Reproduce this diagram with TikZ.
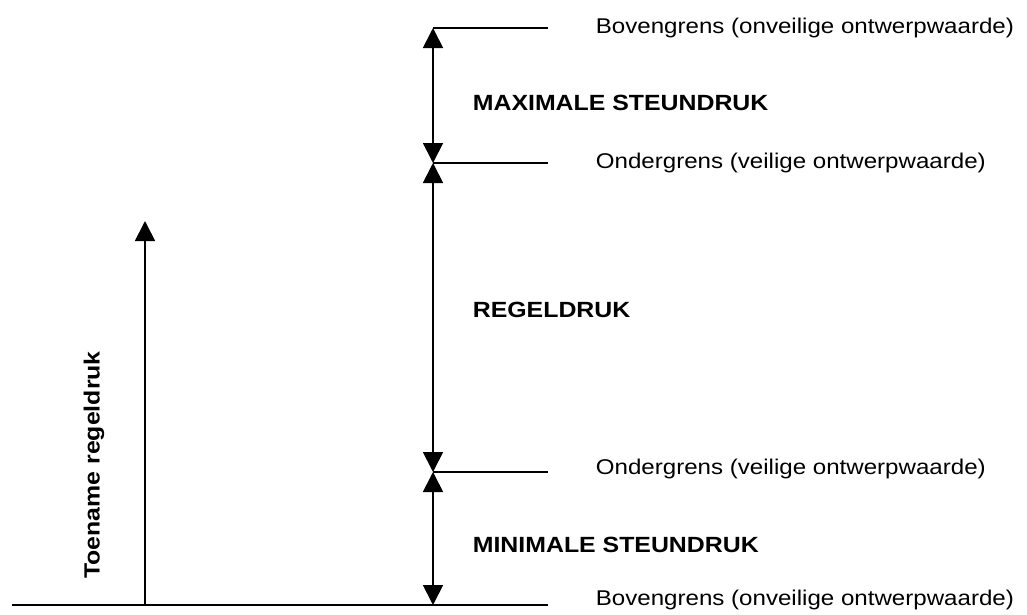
\documentclass[tikz,border=0pt]{standalone}
\usepackage{fontspec}
\setmainfont{Liberation Sans}[FakeStretch=1.13]
\usetikzlibrary{arrows.meta}

\begin{document}
\begin{tikzpicture}[<->,>={Triangle[length=15pt,width=15pt]},x=0.75pt,y=-0.75pt,
    line width=1.3pt,every node/.style={inner sep=0pt,font=\fontsize{16}{19}\selectfont},
    grens/.style={anchor=west},
    zone/.style={anchor=west,font=\fontsize{16.5}{19}\selectfont\bfseries}]
        \useasboundingbox (0,0) rectangle (1027,614);
        % levels on the scale
        \coordinate (top) at (433,28);
        \coordinate (up) at (433,163);
        \coordinate (low) at (433,472);
        \coordinate (bot) at (433,605);
        \coordinate (topend) at (548,28);
        \coordinate (upend) at (548,163);
        \coordinate (lowend) at (548,472);
        \coordinate (botend) at (548,605);
        \coordinate (base) at (12,605);
        \coordinate (foot) at (145,605);
        \coordinate (tip) at (145,221);

        \draw[-] (top) -- (topend);
        \draw[-] (up) -- (upend);
        \draw[-] (low) -- (lowend);
        \draw[-] (base) -- (botend);

        \draw (top) -- (up);
        \draw (up) -- (low);
        \draw (low) -- (bot);
        \draw[->] (foot) -- (tip);

        \node[grens] (bovtop) at (595,28) {Bovengrens (onveilige ontwerpwaarde)};
        \node[grens] (ondup) at (595,163) {Ondergrens (veilige ontwerpwaarde)};
        \node[grens] (ondlow) at (595,469) {Ondergrens (veilige ontwerpwaarde)};
        \node[grens] (bovbot) at (595,600) {Bovengrens (onveilige ontwerpwaarde)};
        \node[zone] (maxi) at (472,103) {MAXIMALE STEUNDRUK};
        \node[zone] (regel) at (472,310) {REGELDRUK};
        \node[zone] (mini) at (472,545) {MINIMALE STEUNDRUK};
        \node[zone,anchor=center,rotate=90] (toename) at (94,465) {Toename regeldruk};
\end{tikzpicture}
\end{document}
